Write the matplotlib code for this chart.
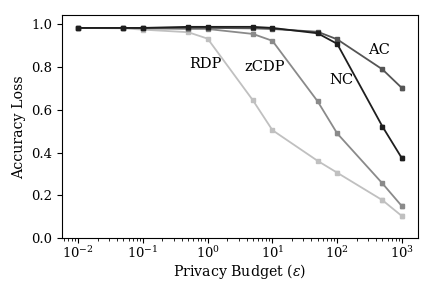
import matplotlib
matplotlib.use("Agg")
import matplotlib.pyplot as plt

plt.rcParams['font.family'] = ['DejaVu Serif']
plt.rcParams['mathtext.fontset'] = 'dejavuserif'

eps = [0.01, 0.05, 0.1, 0.5, 1, 5, 10, 50, 100, 500, 1000]
nc = [0.98, 0.98, 0.98, 0.985, 0.985, 0.985, 0.98, 0.955, 0.906, 0.521, 0.373]
ac = [0.98, 0.98, 0.98, 0.98, 0.98, 0.978, 0.975, 0.962, 0.927, 0.787, 0.70]
zcdp = [0.98, 0.98, 0.978, 0.975, 0.975, 0.952, 0.92, 0.638, 0.489, 0.256, 0.15]
rdp = [0.98, 0.978, 0.972, 0.96, 0.93, 0.643, 0.504, 0.361, 0.306, 0.178, 0.104]
err = [0.003, 0.003, 0.003, 0.003, 0.003, 0.003, 0.004, 0.005, 0.006, 0.008, 0.01]

series = [("RDP", rdp, "#c0c0c0"), ("zCDP", zcdp, "#8a8a8a"),
          ("AC", ac, "#555555"), ("NC", nc, "#1e1e1e")]
labels = {"RDP": (0.93, 0.81), "zCDP": (7.7, 0.80), "NC": (117, 0.737), "AC": (450, 0.878)}

fig, ax = plt.subplots(figsize=(4.36, 2.89), dpi=100)
for name, vals, col in series:
    ax.errorbar(eps, vals, yerr=err, color=col, marker='s', markersize=2.3,
                linewidth=1.3, capsize=1.5, elinewidth=1)
    lx, ly = labels[name]
    ax.text(lx, ly, name, ha='center', va='center', fontsize=10.5)

ax.set_xscale('log')
ax.set_ylim(0, 1.04)
ax.set_xticks([1e-2, 1e-1, 1e0, 1e1, 1e2, 1e3])
ax.set_yticks([0, 0.2, 0.4, 0.6, 0.8, 1.0])
ax.tick_params(labelsize=9.5)
ax.tick_params(axis='x', pad=1.5)
ax.set_xlabel(r"Privacy Budget ($\varepsilon$)", fontsize=10.2)
ax.set_ylabel("Accuracy Loss", fontsize=10.2)
fig.subplots_adjust(left=0.142, right=0.959, top=0.948, bottom=0.175)
ax.yaxis.set_label_coords(-0.1, 0.5)
ax.xaxis.set_label_coords(0.5, -0.105)
fig.savefig("out.png", dpi=100)
